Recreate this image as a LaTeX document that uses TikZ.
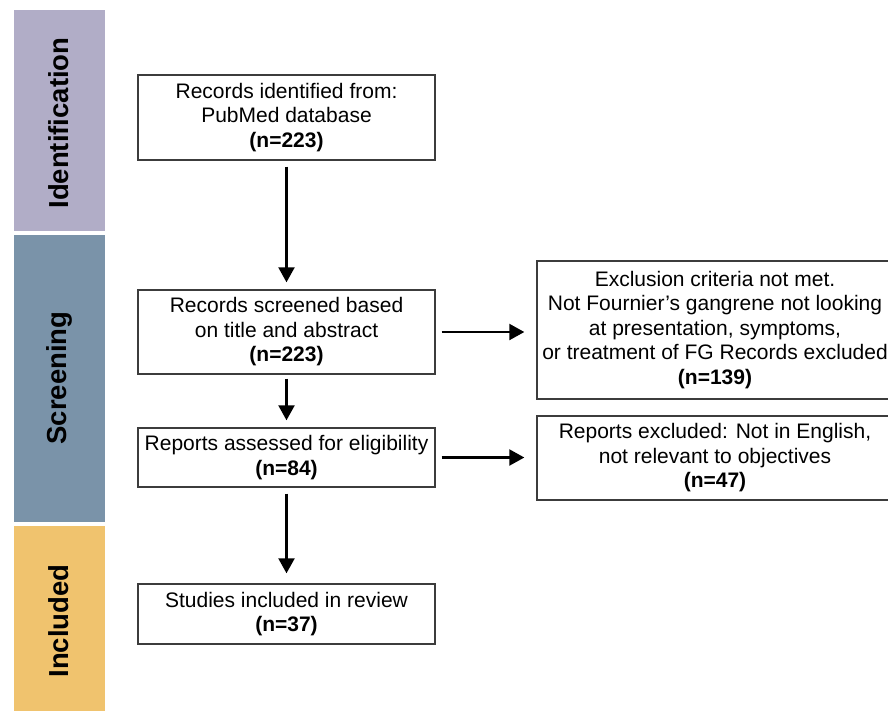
\documentclass[tikz,border=0pt]{standalone}
\usepackage{fontspec}
\setmainfont{Liberation Sans}
\usetikzlibrary{arrows.meta}
\definecolor{identc}{HTML}{B1ADC7}
\definecolor{screenc}{HTML}{7A93A9}
\definecolor{inclc}{HTML}{F0C36E}
\definecolor{boxline}{HTML}{3C3C3C}
\tikzset{
  flowbox/.style={draw=boxline, line width=1.4pt, fill=white, align=center,
    inner sep=0pt, font=\fontsize{21}{24.5}\selectfont},
  phaselabel/.style={rotate=90, font=\fontsize{27.5}{30}\selectfont\bfseries, text=black},
  flowarrow/.style={line width=2.2pt, -{Triangle[length=15pt,width=16pt]}}
}
\begin{document}
\begin{tikzpicture}[x=1pt,y=-1pt]
\useasboundingbox (0,0) rectangle (888,710);
\clip (0,0) rectangle (888,710);
% phase bars
\fill[identc] (14,10) rectangle (105,231);
\fill[screenc] (14,235) rectangle (105,522);
\fill[inclc] (14,526) rectangle (105,712);
\node[phaselabel] (lid) at (59,123) {Identification};
\node[phaselabel] (lsc) at (59,378) {Screening};
\node[phaselabel] (lin) at (59,621) {Included};
% main boxes
\node[flowbox, minimum width=297pt, minimum height=85pt] (b1) at (286.5,117.5)
  {Records identified from:\\PubMed database\\\textbf{(n=223)}};
\node[flowbox, minimum width=297pt, minimum height=84pt] (b2) at (286.5,332)
  {Records screened based\\on title and abstract\\\textbf{(n=223)}};
\node[flowbox, minimum width=297pt, minimum height=59pt] (b3) at (286.5,457.5)
  {Reports assessed for eligibility\\\textbf{(n=84)}};
\node[flowbox, minimum width=297pt, minimum height=60pt] (b4) at (286.5,614)
  {Studies included in review\\\textbf{(n=37)}};
% exclusion boxes
\node[flowbox, minimum width=356pt, minimum height=138pt] (e1) at (715,330)
  {Exclusion criteria not met.\\Not Fournier’s gangrene not looking\\at presentation, symptoms,\\or treatment of FG Records excluded\\\textbf{(n=139)}};
\node[flowbox, minimum width=356pt, minimum height=84pt] (e2) at (715,458)
  {Reports excluded: Not in English,\\not relevant to objectives\\\textbf{(n=47)}};
% arrows
\draw[flowarrow, shorten <=6pt, shorten >=7pt] (b1.south) -- (b2.north);
\draw[flowarrow, shorten <=4pt, shorten >=7pt] (b2.south) -- (b3.north);
\draw[flowarrow, shorten <=6pt, shorten >=10pt] (b3.south) -- (b4.north);
\draw[flowarrow, shorten <=6pt, shorten >=12pt] (b2.east) -- (e1.west |- b2.east);
\draw[flowarrow, shorten <=6pt, shorten >=12pt] (b3.east) -- (e2.west |- b3.east);
\end{tikzpicture}
\end{document}
